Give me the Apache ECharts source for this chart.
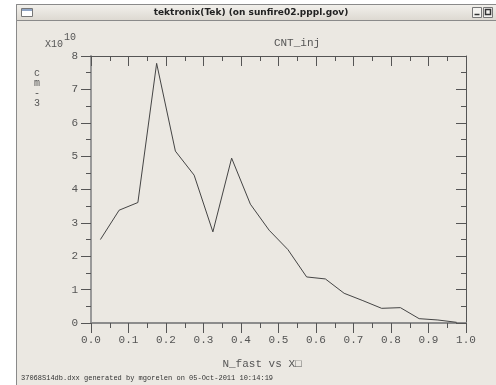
<!DOCTYPE html>
<html><head><meta charset="utf-8">
<script src="https://cdn.jsdelivr.net/npm/echarts@6/dist/echarts.min.js"></script>
<style>html,body{margin:0;padding:0;background:#fff}#c{width:496px;height:385px}</style>
</head><body><div id="c"></div>
<script>
// ---- data ----
const xPositions = [0.025,0.075,0.125,0.175,0.225,0.275,0.325,0.375,0.425,0.475,0.525,0.575,0.625,0.675,0.725,0.775,0.825,0.875,0.925,0.975];
const nFast = [2.50,3.38,3.61,7.78,5.15,4.43,2.73,4.94,3.56,2.78,2.20,1.38,1.32,0.89,0.67,0.44,0.46,0.13,0.09,0.02];
const xTickLabels = ['0.0','0.1','0.2','0.3','0.4','0.5','0.6','0.7','0.8','0.9','1.0'];
const yTickLabels = ['0','1','2','3','4','5','6','7','8'];
const windowTitle = 'tektronix(Tek) (on sunfire02.pppl.gov)';
const plotTitle = 'CNT_inj';
const xTitle = 'N_fast vs X\u25A1';
const unitsLetters = ['c','m','-','3'];
const footer = '37068S14db.dxx generated by mgorelen on 05-Oct-2011 10:14:19';

const MONO = '"Liberation Mono","DejaVu Sans Mono",monospace';
const TXT = '#555';
const chart = echarts.init(document.getElementById('c'), null, {renderer:'canvas'});

const elements = [
  // white outside of window
  {type:'rect', shape:{x:0,y:0,width:16,height:385}, style:{fill:'#fff'}, z:-5},
  {type:'rect', shape:{x:0,y:0,width:496,height:4}, style:{fill:'#fff'}, z:-5},
  // window left border
  {type:'line', shape:{x1:16.5,y1:4,x2:16.5,y2:385}, style:{stroke:'#8a8a8a',lineWidth:1}, z:-4},
  // title bar
  {type:'rect', shape:{x:16.5,y:4.5,width:490,height:16}, style:{
    fill:new echarts.graphic.LinearGradient(0,0,0,1,[{offset:0,color:'#f3f1ed'},{offset:1,color:'#dcd8d0'}]),
    stroke:'#8a8a8a', lineWidth:1}, z:-4},
  // left icon
  {type:'rect', shape:{x:21.5,y:8.5,width:11,height:8}, style:{fill:'#fff',stroke:'#777',lineWidth:1}, z:-3},
  {type:'rect', shape:{x:22,y:9,width:10,height:2}, style:{fill:'#8fa4c4'}, z:-3},
  // right buttons
  {type:'rect', shape:{x:472.5,y:7.5,width:9,height:10}, style:{fill:'#f4f3f0',stroke:'#777',lineWidth:1}, z:-3},
  {type:'line', shape:{x1:474.5,y1:14.5,x2:479.5,y2:14.5}, style:{stroke:'#333',lineWidth:1.5}, z:-3},
  {type:'rect', shape:{x:483.5,y:7.5,width:9,height:10}, style:{fill:'#f4f3f0',stroke:'#777',lineWidth:1}, z:-3},
  {type:'rect', shape:{x:485.5,y:9.5,width:5,height:5}, style:{fill:'none',stroke:'#333',lineWidth:1.5}, z:-3},
  {type:'text', x:251, y:13, style:{text:windowTitle, font:'bold 9px "DejaVu Sans"', fill:'#222', align:'center', verticalAlign:'middle'}, z:-3},
  // plot texts
  {type:'text', x:45, y:44, style:{text:'X10', font:'10px '+MONO, fill:TXT, align:'left', verticalAlign:'middle'}},
  {type:'text', x:64, y:37, style:{text:'10', font:'10px '+MONO, fill:TXT, align:'left', verticalAlign:'middle'}},
  {type:'text', x:297, y:43, style:{text:plotTitle, font:'11px '+MONO, fill:TXT, align:'center', verticalAlign:'middle'}},
  {type:'text', x:262, y:364, style:{text:xTitle, font:'11px '+MONO, fill:TXT, align:'center', verticalAlign:'middle'}},
  {type:'text', x:21, y:378, style:{text:footer, font:'7px '+MONO, fill:'#333', align:'left', verticalAlign:'middle'}}
];
unitsLetters.forEach((ch,i)=>{
  elements.push({type:'text', x:37, y:73+10*i, style:{text:ch, font:'10px '+MONO, fill:TXT, align:'center', verticalAlign:'middle'}});
});

chart.setOption({
  backgroundColor:'#ebe8e2',
  animation:false,
  grid:{left:91, right:30, top:56, bottom:62, containLabel:false},
  xAxis:[{
    type:'value', position:'bottom', min:0, max:1, interval:0.1,
    axisLine:{show:true, onZero:false, lineStyle:{color:'#8c8c8c', width:2}},
    axisTick:{show:true, inside:false, length:10, lineStyle:{color:'#555', width:1}},
    minorTick:{show:true, splitNumber:2, length:5, lineStyle:{color:'#555', width:1}},
    axisLabel:{margin:12, color:TXT, fontFamily:MONO, fontSize:11,
      formatter:(v)=>xTickLabels[Math.round(v*10)]},
    splitLine:{show:false}
  },{
    type:'value', position:'top', min:0, max:1, interval:0.1,
    axisLine:{show:true, onZero:false, lineStyle:{color:'#555', width:1}},
    axisTick:{show:true, inside:true, length:10, lineStyle:{color:'#555', width:1}},
    minorTick:{show:true, splitNumber:2, length:5, lineStyle:{color:'#555', width:1}},
    axisLabel:{show:false}, splitLine:{show:false}
  }],
  yAxis:[{
    type:'value', position:'left', min:0, max:8, interval:1,
    axisLine:{show:true, onZero:false, lineStyle:{color:'#999', width:2}},
    axisTick:{show:true, inside:false, length:10, lineStyle:{color:'#555', width:1}},
    minorTick:{show:true, splitNumber:2, length:5, lineStyle:{color:'#555', width:1}},
    axisLabel:{margin:13, color:TXT, fontFamily:MONO, fontSize:11,
      formatter:(v)=>yTickLabels[Math.round(v)]},
    splitLine:{show:false}
  },{
    type:'value', position:'right', min:0, max:8, interval:1,
    axisLine:{show:true, onZero:false, lineStyle:{color:'#555', width:1}},
    axisTick:{show:true, inside:true, length:10, lineStyle:{color:'#555', width:1}},
    minorTick:{show:true, splitNumber:2, length:5, lineStyle:{color:'#555', width:1}},
    axisLabel:{show:false}, splitLine:{show:false}
  }],
  series:[{
    type:'line', xAxisIndex:0, yAxisIndex:0,
    data:xPositions.map((x,i)=>[x,nFast[i]]),
    showSymbol:false, symbol:'none',
    lineStyle:{color:'#444', width:1}
  }],
  graphic:{elements:elements}
});
</script></body></html>
